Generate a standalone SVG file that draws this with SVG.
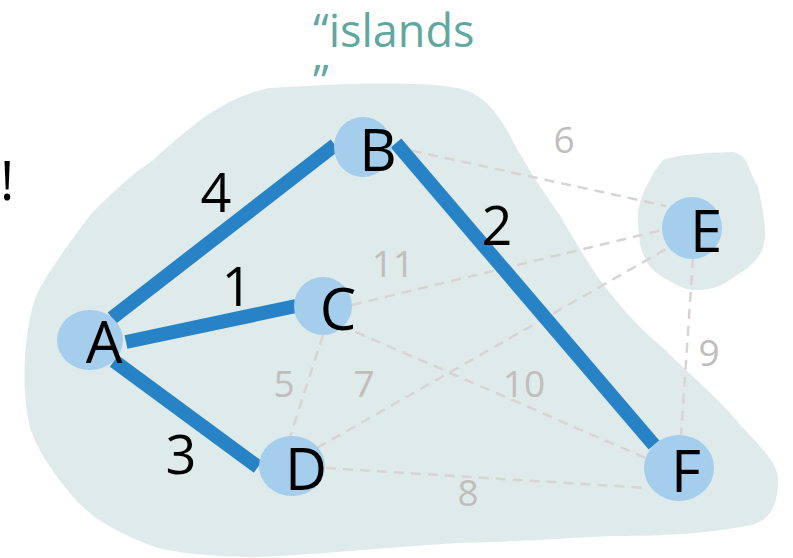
<svg xmlns="http://www.w3.org/2000/svg" width="793" height="558" viewBox="0 0 793 558">
<style>
.island{fill:#deebea}
.node ellipse{fill:#a5cdec}
.node text{font-family:"Open Sans",sans-serif;font-size:58px;fill:#000;text-anchor:middle}
.mst{stroke:#2783c6;stroke-width:14;fill:none}
.other{stroke:#d9d4d4;stroke-width:2.5;stroke-dasharray:10 7;fill:none}
.w{font-family:"Open Sans",sans-serif;font-size:54px;fill:#000;text-anchor:middle}
.g{font-family:"Open Sans",sans-serif;font-size:37px;fill:#c1bdbd;text-anchor:middle}
.title{font-family:"Open Sans",sans-serif;font-size:45px;fill:#5fa8a0}
</style>
<rect width="793" height="558" fill="#fff"/>
<g id="islands">
<path class="island" d="M269,88 C330,84 420,80 457,88 C475,92 490,100 508,132 C520,155 535,180 559,214 C580,250 595,275 610,293 C630,318 645,333 661,346 C690,375 715,395 737,421 C760,447 778,462 778,480 C778,505 770,520 752,525 C700,535 650,536 610,536 C540,540 480,543 457,543 C380,548 300,556 254,557 C200,556 170,552 152,546 C110,530 90,515 76,500 C50,470 38,450 30,428 C24,400 24,380 25,357 C28,320 33,300 41,286 C60,255 75,235 91,214 C120,185 135,172 152,161 C175,140 190,128 203,118 C230,100 250,92 269,88 Z"/>
<path class="island" d="M663,160 C680,154 705,153 733,152 C745,155 747,163 747,163 C752,175 755,182 758,187 C762,205 765,220 765,233 C765,245 762,252 758,257 C752,265 746,270 740,273 C730,280 722,286 713,288 C705,290 698,290 693,290 C685,289 678,286 673,283 C662,277 655,272 650,267 C644,258 641,250 640,243 C638,230 638,222 638,213 C640,198 645,188 650,180 C655,170 659,165 663,160 Z"/>
</g>
<g id="connectors">
<line class="other" x1="395" y1="147" x2="666" y2="206"/>
<line class="other" x1="352" y1="305" x2="662" y2="230"/>
<line class="other" x1="317" y1="448" x2="668" y2="248"/>
<line class="other" x1="340" y1="325" x2="650" y2="460"/>
<line class="other" x1="323" y1="335" x2="290" y2="437"/>
<line class="other" x1="326" y1="468" x2="647" y2="488"/>
<line class="other" x1="693" y1="258" x2="681" y2="436"/>
<line class="mst" x1="112" y1="318" x2="335" y2="145"/>
<line class="mst" x1="126" y1="342" x2="296" y2="306"/>
<line class="mst" x1="114" y1="361" x2="258" y2="467"/>
<line class="mst" x1="396" y1="143" x2="654" y2="445"/>
<text class="w" x="216" y="212">4</text>
<text class="w" x="237" y="306">1</text>
<text class="w" x="181" y="474">3</text>
<text class="w" x="497" y="245">2</text>
<text class="g" x="564" y="153">6</text>
<text class="g" x="393" y="277">11</text>
<text class="g" x="284" y="397">5</text>
<text class="g" x="364" y="397">7</text>
<text class="g" x="524" y="397">10</text>
<text class="g" x="709" y="366">9</text>
<text class="g" x="468" y="506">8</text>
</g>
<g id="A" class="node"><ellipse cx="90" cy="340" rx="33" ry="30"/><text x="104" y="363">A</text></g>
<g id="B" class="node"><ellipse cx="363" cy="147" rx="29" ry="30"/><text x="378" y="171">B</text></g>
<g id="C" class="node"><ellipse cx="323" cy="306" rx="29" ry="29"/><text x="338" y="330">C</text></g>
<g id="D" class="node"><ellipse cx="292" cy="466" rx="33" ry="30"/><text x="306" y="490">D</text></g>
<g id="E" class="node"><ellipse cx="692" cy="228" rx="30" ry="31"/><text x="706" y="252">E</text></g>
<g id="F" class="node"><ellipse cx="679" cy="468" rx="35" ry="33"/><text x="686" y="492">F</text></g>
<text class="title" x="313" y="47">“islands</text>
<text class="title" x="313" y="98">”</text>
<text x="0" y="200" style="font-family:'Open Sans',sans-serif;font-size:54px;fill:#000">!</text>
</svg>
